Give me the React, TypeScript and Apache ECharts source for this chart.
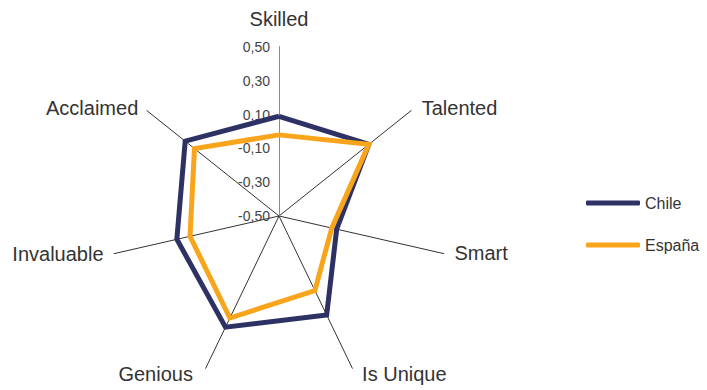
import React, { useEffect, useRef } from "react";
import * as echarts from "echarts";

const indicators = ["Skilled", "Talented", "Smart", "Is Unique", "Genious", "Invaluable", "Acclaimed"];
const seriesNames = ["Chile", "España"];
const chile = [0.09, 0.18, -0.15, 0.15, 0.23, 0.12, 0.21];
const espana = [-0.02, 0.18, -0.18, -0.01, 0.17, 0.04, 0.14];
const axisMin = -0.5;
const axisMax = 0.5;
const axisStep = 0.2;

// ECharts lays radar indicators counter-clockwise; the reference goes clockwise.
const order = [0, 6, 5, 4, 3, 2, 1];

// Per-name padding (style only) to nudge the axis names like the reference.
const namePadding: Record<string, number[]> = {
  Skilled: [0, 0, 7, 0],
  Talented: [8, 0, 0, 2],
  Smart: [0, 0, 6, 0],
  "Is Unique": [0, 0, 8, 5],
  Genious: [0, 8, 8, 0],
  Invaluable: [0, 0, 4, 0],
  Acclaimed: [8, 0, 0, 0],
};

const fmt = (v: number) => v.toFixed(2).replace(".", ",");

export default function App() {
  const ref = useRef<HTMLDivElement>(null);
  useEffect(() => {
    if (!ref.current) return;
    const chart = echarts.init(ref.current, undefined, { renderer: "svg" });
    const center = [279, 216];
    const radius = 169;
    const rich: Record<string, any> = {};
    indicators.forEach((n, i) => {
      rich["n" + i] = { fontSize: 20, color: "#333333", padding: namePadding[n] };
    });
    chart.setOption({
      animation: false,
      backgroundColor: "#ffffff",
      textStyle: { fontFamily: "Liberation Sans, Arial, sans-serif" },
      legend: {
        orient: "vertical",
        left: 581,
        top: 190,
        itemWidth: 54,
        itemHeight: 5,
        itemGap: 26,
        icon: "roundRect",
        textStyle: { fontSize: 16, color: "#333333" },
        data: seriesNames,
      },
      radar: {
        center,
        radius,
        startAngle: 90,
        shape: "polygon",
        splitNumber: 5,
        nameGap: 11,
        indicator: order.map((i) => ({ name: indicators[i], min: axisMin, max: axisMax })),
        axisName: {
          color: "#333333",
          fontSize: 20,
          formatter: (name: string) => `{n${indicators.indexOf(name)}|${name}}`,
          rich,
        },
        axisLine: { lineStyle: { color: "#333333", width: 1 } },
        splitLine: { show: false },
        splitArea: { show: false },
        axisTick: { show: false },
        axisLabel: { show: false },
      },
      polar: { center, radius },
      angleAxis: { show: false, startAngle: 90, min: 0, max: 360 },
      radiusAxis: {
        min: axisMin,
        max: axisMax,
        interval: axisStep,
        z: 1,
        axisLine: { show: true, lineStyle: { color: "#8a8a8a", width: 1 } },
        axisTick: { show: false },
        splitLine: { show: false },
        axisLabel: { formatter: fmt, color: "#444444", fontSize: 14, margin: 9 },
      },
      series: [
        {
          type: "radar",
          symbol: "none",
          data: [
            {
              name: seriesNames[0],
              value: order.map((i) => chile[i]),
              lineStyle: { color: "#2E3163", width: 5, join: "miter" },
              itemStyle: { color: "#2E3163" },
            },
            {
              name: seriesNames[1],
              value: order.map((i) => espana[i]),
              lineStyle: { color: "#F9A51B", width: 5, join: "miter" },
              itemStyle: { color: "#F9A51B" },
            },
          ],
        },
      ],
    });
    return () => chart.dispose();
  }, []);
  return (
    <div
      ref={ref}
      style={{ position: "absolute", left: 0, top: 0, width: 707, height: 390 }}
    />
  );
}
